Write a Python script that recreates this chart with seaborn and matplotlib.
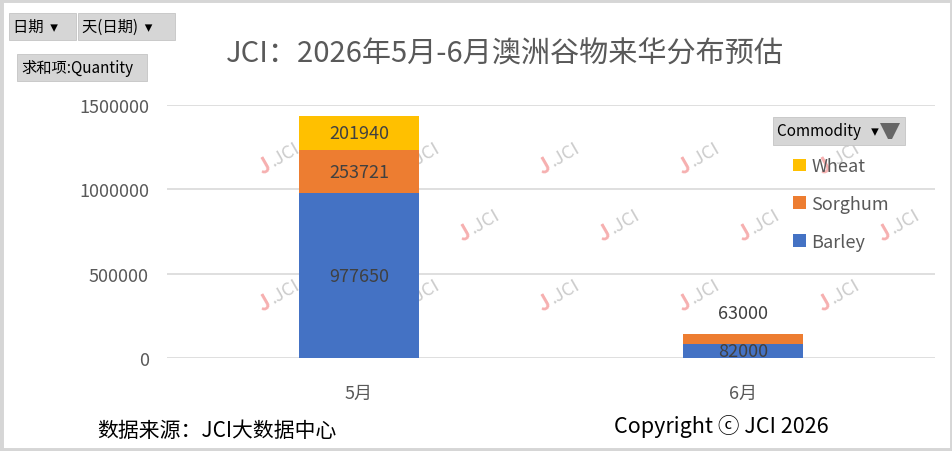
"""
JCI chart: Australian grain arrivals in China, May-June 2026 (stacked by commodity).
"""

import matplotlib as mpl
mpl.use("Agg")
import matplotlib.pyplot as plt
from matplotlib.patches import FancyBboxPatch, Patch, Polygon, Rectangle
import numpy as np
import pandas as pd
import seaborn as sns

MONTHS = ["5月", "6月"]
BARLEY = [977650, 82000]
SORGHUM = [253721, 63000]
WHEAT = [201940, 0]

COMMODITIES = ["Wheat", "Sorghum", "Barley"]
COLORS = {"Barley": "#4472C4", "Sorghum": "#ED7D31", "Wheat": "#FFC000"}
Y_TICKS = [0, 500000, 1000000, 1500000]

TITLE = "JCI：2026年5月-6月澳洲谷物来华分布预估"
SOURCE_NOTE = "数据来源：JCI大数据中心"
COPYRIGHT = "Copyright ⓒ JCI 2026"

W, H = 953, 452
FONTS = ["Noto Sans CJK SC", "DejaVu Sans"]


def px(x, y):
    return x / W, 1 - y / H


def button(fig, x0, y0, x1, y1, text, size=11):
    (fx0, fy1), (fx1, fy0) = px(x0, y0), px(x1, y1)
    fig.patches.append(FancyBboxPatch(
        (fx0, fy0), fx1 - fx0, fy1 - fy0, boxstyle="square,pad=0",
        transform=fig.transFigure, facecolor="#d6d6d6", edgecolor="#c4c4c4",
        linewidth=0.6, zorder=5))
    fig.text(fx0 + 4 / W, (fy0 + fy1) / 2, text, fontsize=size, color="#000000",
             va="center", ha="left", zorder=6)


def watermark(fig, x, y):
    fx, fy = px(x, y)
    fig.text(fx, fy, "J", fontsize=15, color="#f6b0b0", rotation=30,
             rotation_mode="anchor", ha="right", va="center", fontweight="bold", zorder=0.2)
    fig.text(fx + 1 / W, fy, ".JCI", fontsize=13, color="#cccccc", rotation=30,
             rotation_mode="anchor", ha="left", va="center", zorder=0.2)


def main():
    sns.set_theme(style="white")
    plt.rcParams["font.family"] = FONTS
    plt.rcParams["axes.unicode_minus"] = False

    df = pd.DataFrame({"month": MONTHS, "Barley": BARLEY, "Sorghum": SORGHUM, "Wheat": WHEAT})
    df["l1"] = df["Barley"]
    df["l2"] = df["Barley"] + df["Sorghum"]
    df["l3"] = df["l2"] + df["Wheat"]

    fig = plt.figure(figsize=(W / 100, H / 100), dpi=100)
    fig.patch.set_facecolor("white")
    left, top = px(167, 106)
    right, bottom = px(935, 359)
    ax = fig.add_axes([left, bottom, right - left, top - bottom])
    ax.patch.set_alpha(0)
    ax.set_zorder(1)

    # watermarks behind the bars
    for y, xs in [(163, [270, 410, 550, 690, 830]),
                  (230, [330, 470, 610, 750, 890]),
                  (300, [270, 410, 550, 690, 830])]:
        for x in xs:
            watermark(fig, x, y)

    for col, name in [("l3", "Wheat"), ("l2", "Sorghum"), ("l1", "Barley")]:
        sns.barplot(data=df, x="month", y=col, color=COLORS[name], saturation=1,
                    width=0.31, ax=ax, zorder=3, linewidth=0)

    # data labels
    bottoms = np.zeros(len(MONTHS))
    for name in ["Barley", "Sorghum", "Wheat"]:
        vals = np.array(df[name], dtype=float)
        for i, v in enumerate(vals):
            if v <= 0:
                continue
            if v < 80000:
                top_val = float(df["l3"].iloc[i])
                ax.annotate(f"{int(v)}", xy=(i, top_val), xytext=(0, 8),
                            textcoords="offset points", ha="center", va="bottom",
                            fontsize=13, color="#404040", zorder=5)
            else:
                ax.text(i, bottoms[i] + v / 2, f"{int(v)}", ha="center", va="center",
                        fontsize=13, color="#404040", zorder=5)
        bottoms += vals

    ax.set_ylim(0, 1500000)
    ax.set_xlim(-0.5, 1.5)
    ax.set_yticks(Y_TICKS, labels=[str(t) for t in Y_TICKS])
    ax.set_xlabel("")
    ax.set_ylabel("")
    ax.yaxis.grid(True, color="#d9d9d9", linewidth=1.2, zorder=0)
    ax.set_axisbelow(True)
    for s in ax.spines.values():
        s.set_visible(False)
    ax.tick_params(axis="y", length=0, pad=13, labelsize=13, labelcolor="#595959")
    ax.tick_params(axis="x", length=0, pad=19, labelsize=13, labelcolor="#595959")

    # legend
    handles = [Patch(facecolor=COLORS[c], edgecolor="none", label=c) for c in COMMODITIES]
    lx, ly = px(777, 142)
    leg = fig.legend(handles=handles, loc="upper left", bbox_to_anchor=(lx, ly),
                     frameon=False, fontsize=13, handlelength=0.7, handleheight=0.7,
                     handletextpad=0.3, labelspacing=1.1, labelcolor="#595959")
    leg.set_zorder(7)

    # title
    tx, ty = px(505, 55)
    fig.text(tx, ty, TITLE, fontsize=21, color="#595959", ha="center", va="center")

    # pivot buttons
    button(fig, 9, 14, 76, 41, "日期  ▾", size=11)
    button(fig, 78, 14, 175, 41, "天(日期)  ▾", size=11)
    button(fig, 17, 55, 147, 82, "求和项:Quantity", size=11)
    button(fig, 773, 118, 905, 146, "Commodity   ▾", size=11)
    fx0, fy0 = px(880, 124)
    fx1, fy1 = px(900, 124)
    fxm, fym = px(890, 140)
    fig.patches.append(Polygon([(fx0, fy0), (fx1, fy1), (fxm + 2 / W, fym), (fxm - 2 / W, fym)],
                               closed=True, transform=fig.transFigure,
                               facecolor="#666666", edgecolor="none", zorder=6))

    # footer
    sx, sy = px(97, 431)
    fig.text(sx, sy, SOURCE_NOTE, fontsize=15, color="#000000", ha="left", va="center")
    cx, cy = px(614, 427)
    fig.text(cx, cy, COPYRIGHT, fontsize=15.5, color="#000000", ha="left", va="center")

    # outer border
    fig.patches.append(Rectangle((0, 0), 1, 1, transform=fig.transFigure, fill=False,
                                 edgecolor="#d6d6d6", linewidth=5, zorder=10))

    fig.savefig("out.png", dpi=100, facecolor="white")
    plt.close(fig)


if __name__ == "__main__":
    main()
